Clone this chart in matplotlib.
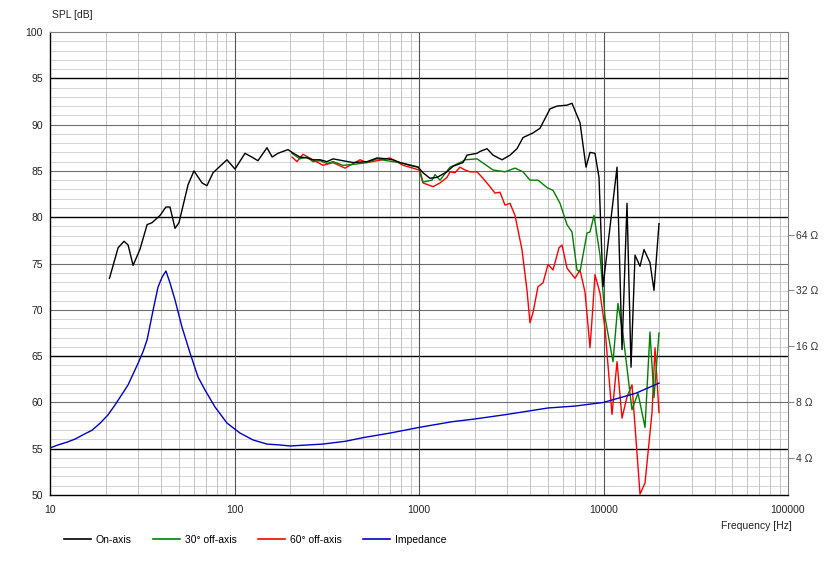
import matplotlib
matplotlib.use("Agg")
import matplotlib.pyplot as plt
from matplotlib.ticker import FixedLocator, NullFormatter

plt.rcParams["font.family"] = ["Liberation Sans", "DejaVu Sans"]
plt.rcParams["font.size"] = 7.5

# On-axis response (Hz, dB)
on_f = [21, 23.4, 25.2, 26.5, 28.2, 30.7, 33.6, 35.7, 39.5, 42.5, 44.7, 47.6, 50, 56, 60.3,
        66.7, 70.9, 76.5, 91, 100.6, 114, 124, 134, 150, 160, 172, 195, 205, 226, 247, 266,
        291, 317, 342, 387, 439, 523, 592, 671, 723, 789, 894, 988, 1051, 1147, 1252, 1418,
        1529, 1732, 1820, 2063, 2141, 2337, 2519, 2818, 3113, 3398, 3663, 4148, 4528, 5129,
        5598, 6340, 6750, 7460, 8040, 8450, 8990, 9454, 9938, 11840, 12600, 13410, 14100,
        14820, 15770, 16580, 17860, 18780, 19990]
on_db = [73.4, 76.7, 77.4, 77.0, 74.8, 76.5, 79.2, 79.4, 80.2, 81.1, 81.1, 78.8, 79.4, 83.5, 85.0,
         83.7, 83.4, 84.8, 86.2, 85.2, 86.9, 86.5, 86.1, 87.5, 86.5, 86.9, 87.3, 87.0, 86.5, 86.4, 86.2,
         86.2, 86.0, 86.3, 86.1, 85.9, 86.0, 86.4, 86.3, 86.2, 85.9, 85.6, 85.4, 84.8, 84.2, 84.3, 84.9,
         85.5, 85.9, 86.7, 86.9, 87.1, 87.4, 86.7, 86.2, 86.7, 87.4, 88.6, 89.1, 89.6, 91.7,
         92.0, 92.1, 92.3, 90.2, 85.4, 87.0, 86.9, 84.3, 72.5, 85.4, 65.7, 81.5, 63.8,
         75.9, 74.7, 76.5, 75.1, 72.1, 79.3]

# 30 deg off-axis
off30_f = [205, 226, 247, 266, 291, 317, 342, 387, 439, 523, 592, 671, 723, 789, 1000, 1051, 1176,
           1221, 1300, 1472, 1711, 1776, 2063, 2519, 2925, 3314, 3663, 3995, 4416, 4941, 5325,
           5811, 6340, 6750, 7185, 7460, 8140, 8450, 8882, 9573, 10190, 11260, 11980, 12760,
           14270, 15380, 16790, 17860, 18780, 19990]
off30_db = [86.9, 86.3, 86.5, 86.0, 86.1, 85.8, 86.0, 85.6, 85.7, 85.9, 86.3, 86.1, 86.0, 85.9, 85.4, 83.8, 84.0,
            84.6, 84.0, 85.4, 86.0, 86.2, 86.3, 85.1, 84.9, 85.3, 84.9, 84.0, 84.0, 83.2, 82.9,
            81.5, 79.2, 78.4, 74.3, 74.1, 78.3, 78.4, 80.2, 75.9, 69.2, 64.4, 70.7, 67.3,
            59.2, 61.0, 57.3, 67.6, 60.5, 67.5]

# 60 deg off-axis
off60_f = [205, 218, 235, 266, 302, 342, 397, 479, 523, 630, 696, 819, 928, 1000, 1051, 1191, 1300,
           1418, 1472, 1567, 1668, 1776, 1890, 2063, 2223, 2425, 2582, 2748, 2925, 3113, 3314,
           3440, 3616, 3849, 3995, 4148, 4416, 4700, 5003, 5325, 5740, 5960, 6340, 7009, 7460,
           7940, 8450, 8772, 8990, 9573, 10190, 11120, 11840, 12600, 13410, 14270, 15770, 16790,
           18320, 19020, 19990]
off60_db = [86.5, 86.0, 86.8, 86.2, 85.6, 85.9, 85.3, 86.2, 85.9, 86.2, 86.4, 85.6, 85.3, 85.1, 83.7, 83.3, 83.7,
            84.3, 84.9, 84.8, 85.4, 85.1, 84.9, 84.9, 84.2, 83.3, 82.6, 82.7, 81.3, 81.5, 80.2,
            78.6, 76.5, 72.1, 68.6, 69.7, 72.5, 72.9, 74.9, 74.3, 76.7, 77.0, 74.5, 73.4, 74.3,
            71.9, 65.9, 70.5, 73.8, 71.8, 68.0, 58.7, 64.4, 58.3, 60.6, 61.9, 50.1, 51.3,
            58.9, 65.9, 58.9]

# Impedance (Hz, ohm)
imp_f = [10, 11.05, 12.4, 13.7, 15.1, 16.9, 18.7, 20.6, 22.5, 24.6, 26.5, 28.2, 30, 32, 33.6,
         36.2, 38.5, 40.5, 42.5, 44.7, 47.6, 51.9, 57.4, 63.4, 69.2, 78.4, 91.1, 107, 126, 150,
         176, 200, 300, 400, 500, 700, 1000, 1500, 2000, 3000, 5000, 7000, 10000, 15000, 20000]
imp_ohm = [4.51, 4.68, 4.85, 5.04, 5.31, 5.62, 6.14, 6.79, 7.69, 8.81, 9.88, 11.3, 12.9, 15.0, 17.3,
           25.0, 33.3, 37.7, 40.7, 35.1, 28.4, 20.3, 14.7, 10.9, 9.27, 7.5, 6.14, 5.43, 4.98, 4.73,
           4.68, 4.62, 4.73, 4.90, 5.13, 5.43, 5.82, 6.24, 6.46, 6.84, 7.41, 7.59, 7.94, 8.91, 10.1]

x_ticks = [10, 100, 1000, 10000, 100000]
spl_ticks = list(range(50, 101, 5))
imp_ticks = [4, 8, 16, 32, 64]
black_lines = [95, 80, 65, 55]

fig = plt.figure(figsize=(8.38, 5.72), dpi=100)
ax = fig.add_axes([50 / 838, 77 / 572, 738 / 838, 463 / 572])

ax.set_xscale("log")
ax.set_xlim(10, 100000)
ax.set_ylim(50, 100)

# grid drawn by hand so the line weights match
for d in range(51, 100):
    ax.axhline(d, color="#d4d4d4", lw=0.7, zorder=0)
for d in spl_ticks[1:-1]:
    if d in black_lines:
        ax.axhline(d, color="black", lw=1.0, zorder=1)
    else:
        ax.axhline(d, color="#6e6e6e", lw=0.8, zorder=1)
for dec in [10, 100, 1000, 10000]:
    for m in range(2, 10):
        ax.axvline(dec * m, color="#c4c4c4", lw=0.7, zorder=0)
for f in [100, 1000, 10000]:
    ax.axvline(f, color="#555555", lw=0.8, zorder=1)

ax.plot(on_f, on_db, color="black", lw=1.0, zorder=5)
ax.plot(off30_f, off30_db, color="#008000", lw=1.0, zorder=4)
ax.plot(off60_f, off60_db, color="#ff0000", lw=1.0, zorder=3)

ax.xaxis.set_major_locator(FixedLocator(x_ticks))
ax.xaxis.set_minor_locator(FixedLocator([]))
ax.set_xticklabels([str(t) for t in x_ticks])
ax.set_yticks(spl_ticks)
ax.tick_params(axis="both", length=0, colors="#222222", labelsize=7.5)
ax.tick_params(axis="x", pad=7)
ax.tick_params(axis="y", pad=5)
for s in ["left", "bottom"]:
    ax.spines[s].set_color("black")
    ax.spines[s].set_linewidth(1.0)
for s in ["top", "right"]:
    ax.spines[s].set_color("#808080")
    ax.spines[s].set_linewidth(0.8)

# impedance on its own log axis: 20*log10(Z) + 42 dB
ax2 = ax.twinx()
ax2.set_yscale("log")
ax2.set_ylim(10 ** ((50 - 42) / 20), 10 ** ((100 - 42) / 20))
ax2.plot(imp_f, imp_ohm, color="#0000cc", lw=1.0, zorder=2)
ax2.yaxis.set_major_locator(FixedLocator(imp_ticks))
ax2.yaxis.set_minor_locator(FixedLocator([]))
ax2.set_yticklabels([f"{t} \u03a9" for t in imp_ticks])
ax2.yaxis.set_minor_formatter(NullFormatter())
ax2.tick_params(axis="y", length=4, width=0.8, color="#888888", labelcolor="#333333",
                labelsize=7.5, pad=2)
for s in ax2.spines.values():
    s.set_visible(False)

fig.text(52 / 838, 1 - 15 / 572, "SPL [dB]", ha="left", va="center", color="#222222", fontsize=7.5)
fig.text(792 / 838, 1 - 526 / 572, "Frequency [Hz]", ha="right", va="center", color="#222222", fontsize=7.5)

handles = [plt.Line2D([], [], color=c, lw=1.2) for c in ["black", "#008000", "#ff0000", "#0000cc"]]
labels = ["On-axis", "30\u00b0 off-axis", "60\u00b0 off-axis", "Impedance"]
fig.legend(handles, labels, loc="center left", bbox_to_anchor=(60 / 838, 1 - 540 / 572),
           ncol=4, frameon=False, handlelength=2.6, handletextpad=0.4, columnspacing=2.1,
           fontsize=7.5, borderaxespad=0)

fig.savefig("out.png", dpi=100)
